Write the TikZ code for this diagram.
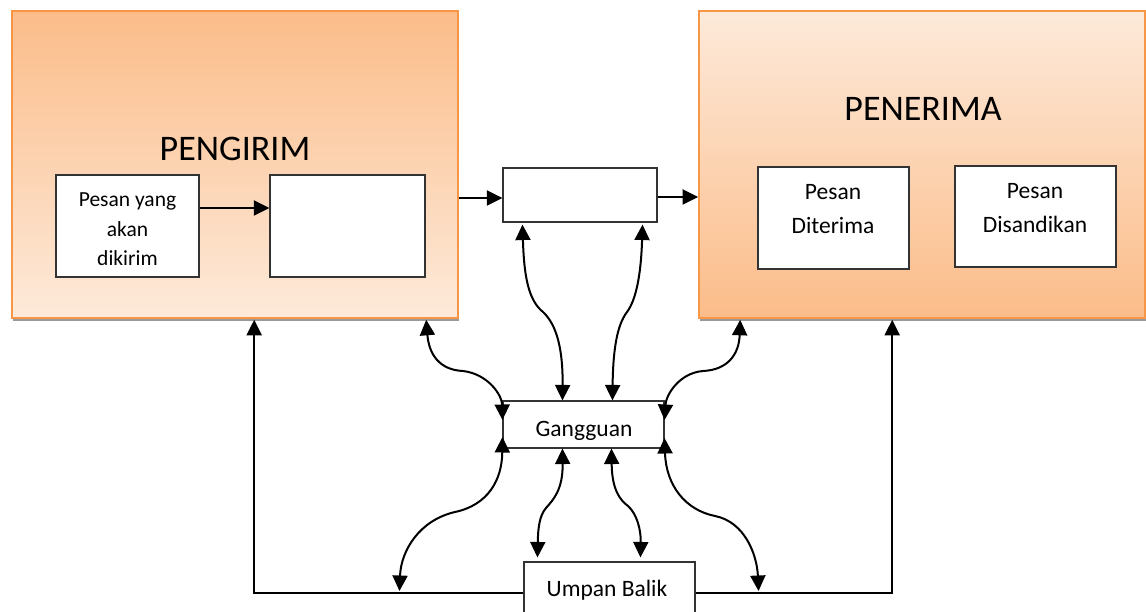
\documentclass[tikz,border=0pt]{standalone}
\usepackage{fontspec}
\setmainfont{Carlito}
\usetikzlibrary{arrows.meta,calc,shadows}
\definecolor{orbord}{HTML}{F79646}
\definecolor{ordark}{HTML}{FBBC89}
\definecolor{orlight}{HTML}{FDEADA}
\begin{document}
\begin{tikzpicture}[x=1pt,y=-1pt,
  bigbox/.style={draw=orbord, line width=1.6pt, inner sep=0pt,
    drop shadow={shadow xshift=1pt, shadow yshift=-3pt, fill=black!40, opacity=1}},
  inbox/.style={draw=black!80, fill=white, line width=1.1pt, inner sep=0pt},
  txt/.style={inner sep=0pt, align=center, font=\fontsize{23.5pt}{34pt}\selectfont},
  titletxt/.style={inner sep=0pt, anchor=base, font=\fontsize{36pt}{40pt}\selectfont},
  tipshape/.tip={Triangle[length=15.5pt,width=15pt]},
  arr/.style={-tipshape, line width=2pt},
  dbl/.style={tipshape-tipshape, line width=2pt}]
\useasboundingbox (0,0) rectangle (1146,612);
\fill[white] (0,0) rectangle (1146,612);

% main boxes
\node[bigbox, top color=ordark, bottom color=orlight, minimum width=446pt, minimum height=307pt] (pengirim) at (235,164.5) {};
\node[bigbox, top color=orlight, bottom color=ordark, minimum width=446pt, minimum height=307pt] (penerima) at (922,164.5) {};
\node[titletxt] (tpengirim) at (235,161) {PENGIRIM};
\node[titletxt] (tpenerima) at (923,121) {PENERIMA};

% inner boxes
\node[inbox, minimum width=143pt, minimum height=102pt] (b1) at (127.5,226) {};
\node[txt, anchor=north, font=\fontsize{21.5pt}{29.5pt}\selectfont] (tb1) at (127.5,193) {Pesan yang\\akan\\dikirim};
\node[inbox, minimum width=155pt, minimum height=102pt] (b2) at (347.5,226) {};
\node[inbox, minimum width=154pt, minimum height=54pt] (mid) at (580,195) {};
\node[inbox, minimum width=151pt, minimum height=102pt] (diterima) at (833.5,218) {};
\node[txt, anchor=north] (tditerima) at (833,184.5) {Pesan\\Diterima};
\node[inbox, minimum width=161pt, minimum height=101pt] (disandikan) at (1035.5,216.5) {};
\node[txt, anchor=north] (tdisandikan) at (1035,183.5) {Pesan\\Disandikan};
\node[inbox, minimum width=161pt, minimum height=47pt] (gangguan) at (583.5,424.5) {};
\node[txt, anchor=base] (tgangguan) at (584,436) {Gangguan};
\node[inbox, minimum width=171pt, minimum height=70pt] (umpan) at (609.5,597) {};
\node[txt, anchor=base] (tumpan) at (607,596) {Umpan Balik};

% straight arrows
\draw[arr] ($(b1.east)+(0,-18)$) -- ($(b2.west)+(0,-18)$);
\draw[arr] ($(pengirim.east |- mid.west)+(0,3)$) -- ($(mid.west)+(0,3)$);
\draw[arr] ($(mid.east)+(0,2)$) -- ($(penerima.west |- mid.east)+(0,2)$);

% feedback lines
\draw[arr, line join=miter] ($(umpan.west)+(0,-4)$) -| ($(pengirim.south west)+(243,1)$);
\draw[arr, line join=miter] ($(umpan.east)+(0,-4)$) -| ($(penerima.south west)+(194,1)$);

% curved double arrows (upper)
\draw[dbl] ($(pengirim.south west)+(415,1)$) .. controls (429,355) and (440,370) .. (463,371)
  .. controls (488,374) and (502,395) .. ($(gangguan.west)+(0,-4.5)$);
\draw[dbl] ($(mid.south west)+(20,2)$) .. controls (524,275) and (528,300) .. (543,312)
  .. controls (557,325) and (563,350) .. ($(gangguan.north west)+(60,0)$);
\draw[dbl] ($(mid.south east)+(-15,2)$) .. controls (641,275) and (636,300) .. (627,312)
  .. controls (617,325) and (613,350) .. ($(gangguan.north west)+(110,0)$);
\draw[dbl] ($(penerima.south west)+(42,1)$) .. controls (739,355) and (727,370) .. (703,371)
  .. controls (679,373) and (666,395) .. ($(gangguan.east)+(0,-4.5)$);

% curved double arrows (lower)
\draw[dbl] ($(gangguan.west)+(0,12.5)$) .. controls (502,480) and (488,505) .. (455,512)
  .. controls (420,520) and (401,550) .. ($(umpan.west)+(-124,-6)$);
\draw[dbl] ($(gangguan.south west)+(60,0)$) .. controls (563,490) and (553,500) .. (546,508)
  .. controls (539,516) and (538,530) .. ($(umpan.north west)+(14,-4)$);
\draw[dbl] ($(gangguan.south west)+(109,0)$) .. controls (612,490) and (620,500) .. (628,506)
  .. controls (637,514) and (641,530) .. ($(umpan.north west)+(117,-4)$);
\draw[dbl] ($(gangguan.east)+(0,13.5)$) .. controls (666,485) and (685,510) .. (715,516)
  .. controls (745,522) and (757,555) .. ($(umpan.east)+(63,-6)$);
\end{tikzpicture}
\end{document}
